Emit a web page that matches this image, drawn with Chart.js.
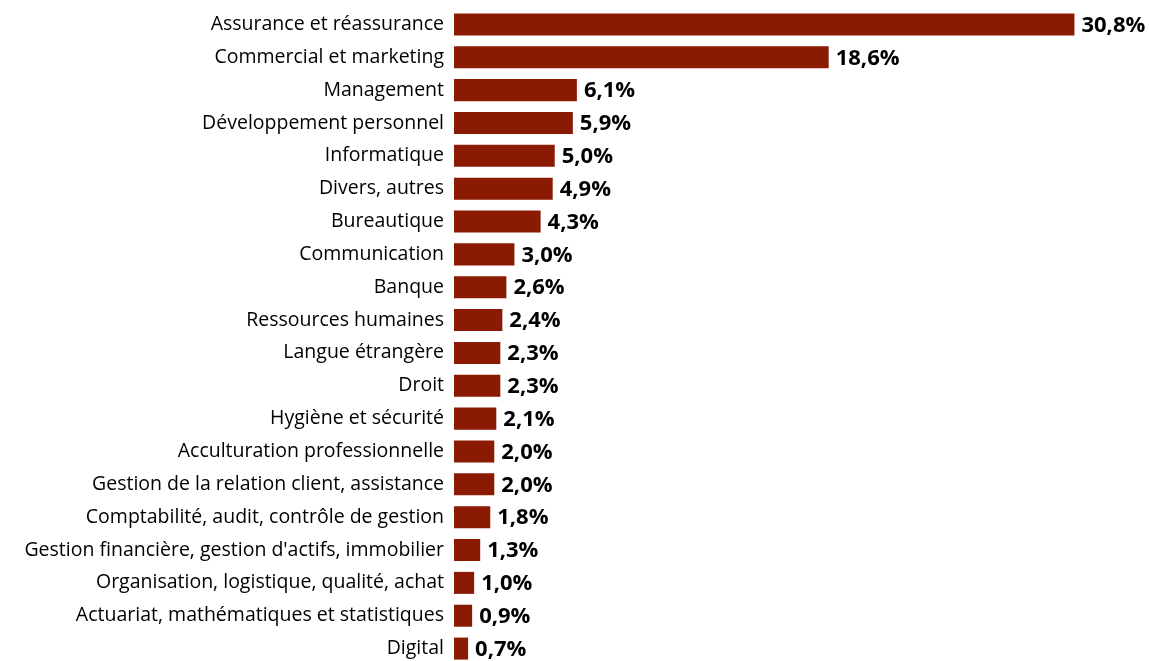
<!DOCTYPE html>
<html>
<head>
<meta charset="utf-8">
<script src="https://cdn.jsdelivr.net/npm/chart.js@4"></script>
<style>
  html, body { margin: 0; padding: 0; background: #fff; overflow: hidden; }
  #wrap { position: relative; width: 1149px; height: 665px; }
</style>
</head>
<body>
<div id="wrap"><canvas id="barChart"></canvas></div>
<script>
// Domaines de formation, part en %
const categories = [
    'Assurance et réassurance',
    'Commercial et marketing',
    'Management',
    'Développement personnel',
    'Informatique',
    'Divers, autres',
    'Bureautique',
    'Communication',
    'Banque',
    'Ressources humaines',
    'Langue étrangère',
    'Droit',
    'Hygiène et sécurité',
    'Acculturation professionnelle',
    'Gestion de la relation client, assistance',
    'Comptabilité, audit, contrôle de gestion',
    "Gestion financière, gestion d'actifs, immobilier",
    'Organisation, logistique, qualité, achat',
    'Actuariat, mathématiques et statistiques',
    'Digital'
];
const shares = [30.8, 18.6, 6.1, 5.9, 5.0, 4.9, 4.3, 3.0, 2.6, 2.4, 2.3, 2.3, 2.1, 2.0, 2.0, 1.8, 1.3, 1.0, 0.9, 0.7];

const BAR_COLOR = '#8b1a02';
const FONT = "'Open Sans', sans-serif";

// write the value at the end of each bar
const valueLabels = {
    id: 'valueLabels',
    afterDatasetsDraw(chart) {
        const { ctx } = chart;
        const meta = chart.getDatasetMeta(0);
        ctx.save();
        ctx.font = `bold 22px ${FONT}`;
        ctx.fillStyle = '#000';
        ctx.textAlign = 'left';
        ctx.textBaseline = 'middle';
        meta.data.forEach((bar, i) => {
            const txt = shares[i].toFixed(1).replace('.', ',') + '%';
            ctx.fillText(txt, bar.x + 7, bar.y + 1);
        });
        ctx.restore();
    }
};

const ctx = document.getElementById('barChart').getContext('2d');
new Chart(ctx, {
    type: 'bar',
    data: {
        labels: categories,
        datasets: [{
            data: shares,
            backgroundColor: BAR_COLOR,
            barPercentage: 1,
            categoryPercentage: 0.67
        }]
    },
    options: {
        indexAxis: 'y',
        responsive: true,
        maintainAspectRatio: false,
        animation: false,
        layout: { padding: { top: 8, right: 0, bottom: 0, left: 0 } },
        scales: {
            x: { display: false, min: 0, max: 34.5 },
            y: {
                grid: { display: false, drawTicks: false },
                border: { display: false },
                ticks: {
                    color: '#000',
                    padding: 10,
                    font: { family: FONT, size: 19.5 }
                },
                afterFit(scale) {
                    // fixed label column, no extra room above/below the bars
                    scale.width = 454;
                    scale.paddingTop = 0;
                    scale.paddingBottom = 0;
                }
            }
        },
        plugins: {
            legend: { display: false },
            tooltip: { enabled: false }
        }
    },
    plugins: [valueLabels]
});
</script>
</body>
</html>
